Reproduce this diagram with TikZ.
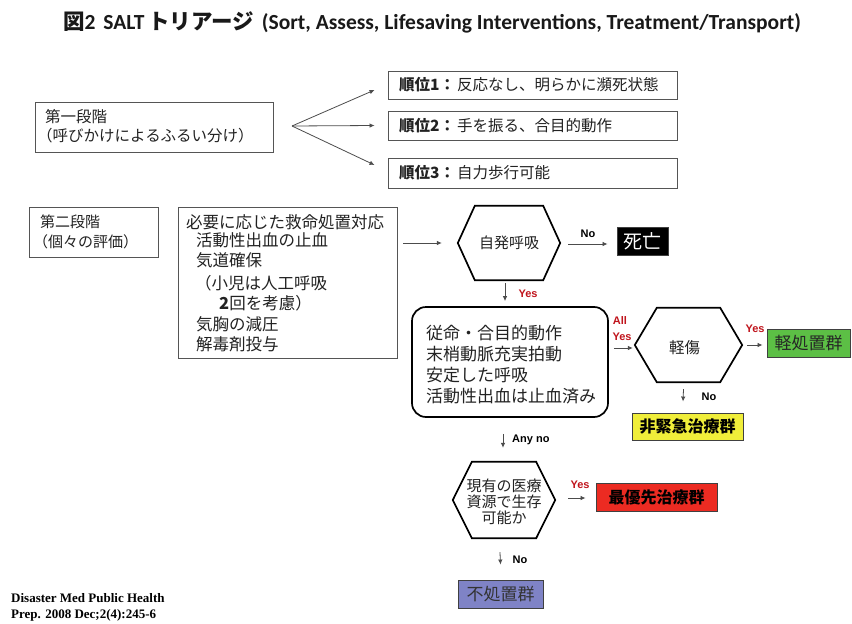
\documentclass[tikz,border=0pt]{standalone}
\usepackage{fontspec}
\setmainfont{Noto Sans CJK JP}
\newfontfamily\carl{Carlito}
\newfontfamily\labfont{Liberation Sans}
\newfontfamily\citefont{Liberation Serif}
\usetikzlibrary{arrows.meta,calc}
\definecolor{boxgray}{HTML}{555555}
\definecolor{textc}{HTML}{222222}
\definecolor{yesred}{HTML}{C0141C}
\definecolor{grn}{HTML}{5CBF45}
\definecolor{ylw}{HTML}{F0EE3A}
\definecolor{rd}{HTML}{EC2B22}
\definecolor{prp}{HTML}{7F83C6}
\newcommand\fsz[1]{\fontsize{#1}{#1}\selectfont}
\newcommand\hexdraw[2]{\draw[hexline] (#1.west) -- ([xshift=#2]#1.north west) -- ([xshift=-#2]#1.north east) -- (#1.east) -- ([xshift=-#2]#1.south east) -- ([xshift=#2]#1.south west) -- cycle;}
\begin{document}
\begin{tikzpicture}[x=1pt,y=-1pt,
  box/.style={draw=boxgray, line width=0.9pt, inner sep=0, fill=white},
  cbox/.style={draw=black!75, line width=0.9pt, inner sep=0, font=\bfseries\fsz{16}, text=black},
  hexline/.style={draw=black, line width=1.7pt, line join=miter},
  hexnode/.style={draw=none, inner sep=0, rectangle},
  arr/.style={draw=black!70, line width=0.8pt, -{Latex[length=5pt,width=4.5pt]}},
  txt/.style={inner sep=0, anchor=west, text=textc},
  lab/.style={inner sep=0, font=\labfont\bfseries\fsz{11}, text=black},
  yeslab/.style={lab, text=yesred}]
\fill[white] (0,0) rectangle (852,624);
\useasboundingbox (0,0) rectangle (852,624);

% title
\node[inner sep=0, text=black!90] (title) at (432,22)
  {\bfseries\fsz{21.5}図{\carl 2\hspace{8pt}SALT}\,トリアージ\hspace{8pt}{\carl (Sort, Assess, Lifesaving Interventions, Treatment/Transport)}};

% stage 1
\node[box, minimum width=238, minimum height=50] (s1) at (154,127) {};
\node[txt, font=\fsz{15.5}] (s1a) at (45,117) {第一段階};
\node[txt, font=\fsz{15.5}] (s1b) at (37,136) {（呼びかけによるふるい分け）};

\node[box, minimum width=289, minimum height=28] (p1) at (532.5,85) {};
\node[box, minimum width=289, minimum height=29] (p2) at (532.5,125.5) {};
\node[box, minimum width=289, minimum height=30] (p3) at (532.5,173) {};
\node[txt, font=\fsz{15.5}] (p1t) at (399,85) {\textbf{順位1：}\hspace{2pt}反応なし、明らかに瀕死状態};
\node[txt, font=\fsz{15.5}] (p2t) at (399,125.5) {\textbf{順位2：}\hspace{2pt}手を振る、合目的動作};
\node[txt, font=\fsz{15.5}] (p3t) at (399,173) {\textbf{順位3：}\hspace{2pt}自力歩行可能};

\coordinate (fan) at (292,126);
\draw[arr] (fan) -- ($(p1.west)+(-13,5)$);
\draw[arr] (fan) -- ($(p2.west)+(-13,0)$);
\draw[arr] (fan) -- ($(p3.west)+(-13,-8)$);

% stage 2
\node[box, minimum width=129, minimum height=50] (s2) at (93.5,232) {};
\node[txt, font=\fsz{15}] (s2a) at (40,222) {第二段階};
\node[txt, font=\fsz{15}] (s2b) at (33,242) {（個々の評価）};

\node[box, minimum width=219, minimum height=151] (iv) at (287.5,282.5) {};
\node[txt, font=\fsz{16.5}] at (186,222) {必要に応じた救命処置対応};
\node[txt, font=\fsz{16.5}] at (196,240) {活動性出血の止血};
\node[txt, font=\fsz{16.5}] at (196,260) {気道確保};
\node[txt, font=\fsz{16.5}] at (195,283) {（小児は人工呼吸};
\node[txt, font=\fsz{16.5}] at (219,303) {\textbf{2}回を考慮）};
\node[txt, font=\fsz{16.5}] at (196,324) {気胸の減圧};
\node[txt, font=\fsz{16.5}] at (196,344) {解毒剤投与};

% hexagon 1
\node[hexnode, minimum width=102, minimum height=74] (h1) at (509,243) {};
\hexdraw{h1}{17pt}
\node[inner sep=0, font=\fsz{15}, text=textc] at (h1) {自発呼吸};
\draw[arr] ($(iv.east |- h1.west)+(6,0)$) -- ($(h1.west)+(-16,0)$);

\node[cbox, fill=black, text=white, font=\fsz{19}, minimum width=51, minimum height=28] (death) at (642.5,241) {死亡};
\draw[arr] ($(h1.east)+(8,1)$) -- ($(death.west |- h1.east)+(-9,1)$);
\node[lab] at (588,234) {No};

% rounded box
\node[draw=black, line width=1.7pt, rounded corners=14pt, minimum width=196, minimum height=110, inner sep=0] (rb) at (510,362) {};
\node[txt, font=\fsz{17}] at (426,333) {従命・合目的動作};
\node[txt, font=\fsz{17}] at (426,354) {末梢動脈充実拍動};
\node[txt, font=\fsz{17}] at (426,375) {安定した呼吸};
\node[txt, font=\fsz{17}] at (426,396) {活動性出血は止血済み};
\draw[arr] ($(h1.south)+(-4,3)$) -- ($(rb.north)+(-5,-5)$);
\node[yeslab] at (528,294) {Yes};

% hexagon 2
\node[hexnode, minimum width=107, minimum height=74] (h2) at (688.5,345) {};
\hexdraw{h2}{22pt}
\node[inner sep=0, font=\fsz{15.5}, text=textc] at ($(h2)+(-4,3)$) {軽傷};
\draw[arr] ($(rb.east |- h2.west)+(5,3)$) -- ($(h2.west)+(-2,3)$);
\node[yeslab] at (620,321) {All};
\node[yeslab] at (622,337) {Yes};

\node[cbox, fill=grn, font=\fsz{17}, text=black!85, minimum width=83, minimum height=28] (green) at (808.5,343) {\mdseries 軽処置群};
\draw[arr] ($(h2.east)+(5,0)$) -- ($(green.west |- h2.east)+(-4,0)$);
\node[yeslab] at (755,329) {Yes};

\node[cbox, fill=ylw, minimum width=111, minimum height=27] (yel) at (687.5,426.5) {非緊急治療群};
\draw[arr] ($(h2.south)+(-5,7)$) -- ($(yel.north)+(-4.5,-11)$);
\node[lab] at (709,397) {No};

% hexagon 3
\node[hexnode, minimum width=102, minimum height=76] (h3) at (504,500) {};
\hexdraw{h3}{19pt}
\node[inner sep=0, font=\fsz{15}, text=textc, align=center] at ($(h3)+(0,2)$) {現有の医療\\[1pt]資源で生存\\[1pt]可能か};
\draw[arr] ($(rb.south)+(-7,16)$) -- ($(h3.north)+(-1,-14)$);
\node[lab, anchor=west] at (512,440) {Any no};

\node[cbox, fill=rd, minimum width=121, minimum height=28] (red) at (656.5,497) {最優先治療群};
\draw[arr] ($(h3.east)+(13,-2)$) -- ($(red.west |- h3.east)+(-10,-2)$);
\node[yeslab] at (580,485) {Yes};

\node[cbox, fill=prp, font=\fsz{17}, text=black!80, minimum width=85, minimum height=28] (purple) at (500.5,594) {\mdseries 不処置群};
\draw[arr] ($(h3.south)+(-4,14)$) -- ($(purple.north)+(0,-15)$);
\node[lab] at (520,560) {No};

% citation
\node[inner sep=0, anchor=west, font=\citefont\bfseries\fsz{13}] (c1) at (11,598) {Disaster Med Public Health};
\node[inner sep=0, anchor=west, font=\citefont\bfseries\fsz{13}] (c2) at (11,615) {Prep. 2008 Dec;2(4):245-6};
\end{tikzpicture}
\end{document}
